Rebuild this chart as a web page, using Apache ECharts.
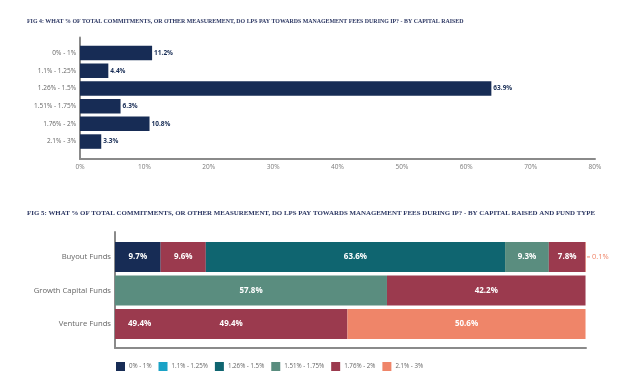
<!DOCTYPE html>
<html>
<head>
<meta charset="utf-8">
<script src="https://cdn.jsdelivr.net/npm/echarts@6/dist/echarts.min.js"></script>
<style>html,body{margin:0;padding:0;background:#fff}#c{width:621px;height:392px}</style>
</head>
<body>
<div id="c"></div>
<script>
// ---- data ----
const title1 = 'FIG 4: WHAT % OF TOTAL COMMITMENTS, OR OTHER MEASUREMENT, DO LPS PAY TOWARDS MANAGEMENT FEES DURING IP? - BY CAPITAL RAISED';
const title2 = 'FIG 5: WHAT % OF TOTAL COMMITMENTS, OR OTHER MEASUREMENT, DO LPS PAY TOWARDS MANAGEMENT FEES DURING IP? - BY CAPITAL RAISED AND FUND TYPE';
const feeBands = ['0% - 1%', '1.1% - 1.25%', '1.26% - 1.5%', '1.51% - 1.75%', '1.76% - 2%', '2.1% - 3%'];
const fig4Values = [11.2, 4.4, 63.9, 6.3, 10.8, 3.3];
const fig4AxisMax = 80;
const fig4AxisStep = 10;

const fundTypes = ['Buyout Funds', 'Growth Capital Funds', 'Venture Funds'];
const band0 = [9.7, 0, 0];
const band1 = [9.6, 0, 0];
const band2 = [63.6, 0, 0];
const band3 = [9.3, 57.8, 0];
const band4 = [7.8, 42.2, 49.4];
const band5 = [0.1, 0, 50.6];
const fig5Bands = [band0, band1, band2, band3, band4, band5];

// ---- styles ----
const NAVY = '#172c55';
const colors = ['#172c55', '#1aa2c6', '#0f6570', '#5a8d7f', '#9b3a4e', '#ef8569'];
const SANS = 'Open Sans';
const SERIF = 'Liberation Serif';
const AXIS = {show: true, lineStyle: {color: '#8a8a8a', width: 2, cap: 'round'}};
const LBL5 = {color: '#fff', fontFamily: SANS, fontWeight: 'bold', fontSize: 8};

const chart = echarts.init(document.getElementById('c'), null, {renderer: 'canvas'});

const fig5Series = fig5Bands.map((vals, si) => {
  const s = {
    type: 'bar', name: feeBands[si], stack: 'f5', xAxisIndex: 1, yAxisIndex: 1,
    barCategoryGap: '10%',
    itemStyle: {color: colors[si]},
    data: vals.map((v, i) => {
      const d = {value: v};
      // Buyout's second segment is drawn in the maroon tone in the reference
      if (si === 1 && i === 0) d.itemStyle = {color: colors[4]};
      if (si === 4 && i === 2) d.label = {position: 'insideLeft', distance: 13};
      return d;
    }),
    label: Object.assign({show: true, position: 'inside',
      formatter: p => p.value > 0 ? p.value.toFixed(1) + '%' : ''}, LBL5)
  };
  if (si === 5) {
    s.data[0].label = {
      position: 'right', distance: 1, color: colors[5], fontWeight: 'normal',
      formatter: p => '{l|}{t|' + p.value.toFixed(1) + '%}',
      rich: {l: {width: 3, height: 1, backgroundColor: colors[5]}, t: {color: colors[5], fontSize: 7.5, fontFamily: SANS, padding: [0, 0, 0, 2]}}
    };
  }
  if (si === 4) {
    s.markPoint = {
      symbol: 'rect', symbolSize: 1, itemStyle: {color: 'rgba(0,0,0,0)'},
      silent: true,
      data: [{coord: [vals[2] / 2, 2], value: vals[2]}],
      label: Object.assign({show: true, position: 'inside',
        formatter: p => Number(p.value).toFixed(1) + '%'}, LBL5)
    };
  }
  return s;
});

chart.setOption({
  animation: false,
  backgroundColor: '#fff',
  title: [
    {text: title1, left: 27, top: 18, padding: 0, textStyle: {fontFamily: SERIF, fontWeight: 'bold', fontSize: 5.9, color: '#2b3662'}},
    {text: title2, left: 27, top: 210, padding: 0, textStyle: {fontFamily: SERIF, fontWeight: 'bold', fontSize: 6.9, color: '#2b3662'}}
  ],
  legend: {
    left: 116, top: 362, padding: 0, icon: 'rect', itemWidth: 9, itemHeight: 9, itemGap: 7,
    textStyle: {fontFamily: SANS, fontSize: 6.2, color: '#666', padding: [0, 0, 0, -1]},
    data: feeBands, selectedMode: false
  },
  grid: [
    {left: 80, right: 26, top: 44.2, height: 106.2},
    {left: 80, width: 1, top: 37.5, height: 121.5},
    {left: 115, right: 35, top: 240.2, height: 100.5},
    {left: 115, width: 1, top: 232, height: 116}
  ],
  xAxis: [
    {gridIndex: 0, type: 'value', min: 0, max: fig4AxisMax, interval: fig4AxisStep, offset: 8.6,
      axisLine: AXIS, axisTick: {show: false}, splitLine: {show: false},
      axisLabel: {formatter: '{value}%', color: '#7a7a7a', fontFamily: SANS, fontSize: 6.5, margin: 5}},
    {gridIndex: 2, type: 'value', min: 0, max: 100.1, offset: 7.3,
      axisLine: AXIS, axisTick: {show: false}, splitLine: {show: false}, axisLabel: {show: false}},
    {gridIndex: 1, type: 'value', show: false},
    {gridIndex: 3, type: 'value', show: false}
  ],
  yAxis: [
    {gridIndex: 0, type: 'category', data: feeBands, inverse: true,
      axisLine: {show: false}, axisTick: {show: false},
      axisLabel: {interval: 0, color: '#666', fontFamily: SANS, fontSize: 6.5, margin: 4}},
    {gridIndex: 2, type: 'category', data: fundTypes, inverse: true,
      axisLine: {show: false}, axisTick: {show: false},
      axisLabel: {interval: 0, color: '#666', fontFamily: SANS, fontSize: 7.7, margin: 4}},
    {gridIndex: 1, type: 'value', axisLine: Object.assign({onZero: false}, AXIS), axisTick: {show: false}, axisLabel: {show: false}, splitLine: {show: false}},
    {gridIndex: 3, type: 'value', axisLine: Object.assign({onZero: false}, AXIS), axisTick: {show: false}, axisLabel: {show: false}, splitLine: {show: false}}
  ],
  series: [
    {type: 'bar', xAxisIndex: 0, yAxisIndex: 0, data: fig4Values, barWidth: 14.5,
      itemStyle: {color: NAVY},
      label: {show: true, position: 'right', distance: 2, color: NAVY, fontFamily: SANS, fontWeight: 'bold', fontSize: 6.5,
        formatter: p => p.value.toFixed(1) + '%'}}
  ].concat(fig5Series)
});
</script>
</body>
</html>
